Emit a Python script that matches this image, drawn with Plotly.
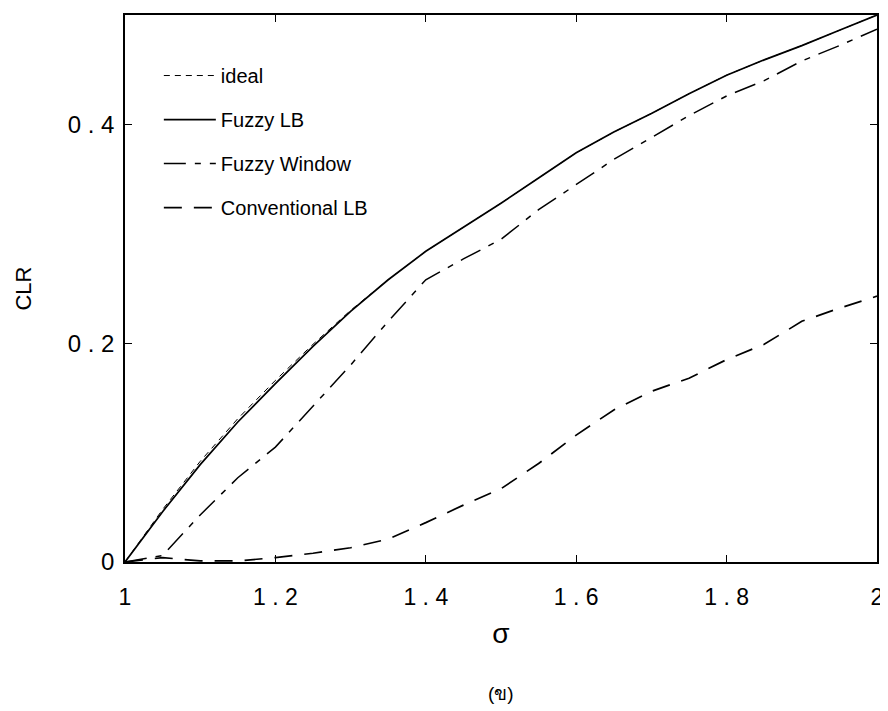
import plotly.graph_objects as go

sigma = [1.0, 1.05, 1.1, 1.15, 1.2, 1.25, 1.3, 1.35, 1.4, 1.45, 1.5,
         1.55, 1.6, 1.65, 1.7, 1.75, 1.8, 1.85, 1.9, 1.95, 2.0]

ideal = [0.0, 0.048, 0.092, 0.131, 0.166, 0.199, 0.230, 0.258, 0.284, 0.306, 0.328,
         0.351, 0.374, 0.393, 0.410, 0.428, 0.445, 0.459, 0.472, 0.486, 0.500]
fuzzy_lb = [0.0, 0.046, 0.089, 0.128, 0.163, 0.197, 0.229, 0.258, 0.284, 0.306, 0.328,
            0.351, 0.374, 0.393, 0.410, 0.428, 0.445, 0.459, 0.472, 0.486, 0.500]
fuzzy_window = [0.0, 0.006, 0.043, 0.077, 0.105, 0.143, 0.180, 0.220, 0.258, 0.277, 0.295,
                0.322, 0.345, 0.368, 0.388, 0.408, 0.426, 0.440, 0.458, 0.472, 0.487]
conventional_lb = [0.0, 0.004, 0.001, 0.001, 0.004, 0.008, 0.013, 0.021, 0.036, 0.052, 0.067,
                   0.090, 0.116, 0.139, 0.156, 0.168, 0.185, 0.199, 0.220, 0.232, 0.243]

x_ticks = [1.0, 1.2, 1.4, 1.6, 1.8, 2.0]
x_tick_text = ["1", "1 . 2", "1 . 4", "1 . 6", "1 . 8", "2"]
y_ticks = [0.0, 0.2, 0.4]
y_tick_text = ["0", "0 . 2", "0 . 4"]

fig = go.Figure()
fig.add_trace(go.Scatter(x=sigma, y=ideal, mode="lines", name="ideal", legendgroup="a",
                         line=dict(color="black", width=1, dash="6px,5px")))
fig.add_trace(go.Scatter(x=sigma, y=fuzzy_lb, mode="lines", name="Fuzzy LB", legendgroup="b",
                         line=dict(color="black", width=1.7)))
fig.add_trace(go.Scatter(x=sigma, y=fuzzy_window, mode="lines", name="Fuzzy Window", legendgroup="c",
                         line=dict(color="black", width=1.5, dash="22px,9px,6px,9px")))
fig.add_trace(go.Scatter(x=sigma, y=conventional_lb, mode="lines", name="Conventional LB", legendgroup="d",
                         line=dict(color="black", width=1.7, dash="18px,12px")))

# the page body adds an 8px margin, so the figure is sized to fit inside it
fig.update_layout(
    width=880, height=703,
    margin=dict(l=117, r=8, t=5, b=149),
    paper_bgcolor="white", plot_bgcolor="white",
    font=dict(family="Liberation Sans, Arial, sans-serif", color="black"),
    showlegend=True,
    legend=dict(x=0.045, y=0.925, xanchor="left", yanchor="top",
                font=dict(size=20), tracegroupgap=15, itemwidth=52,
                bgcolor="rgba(0,0,0,0)"),
    xaxis=dict(range=[1, 2], tickvals=x_ticks, ticktext=x_tick_text,
               ticks="inside", ticklen=7, tickcolor="black", showline=True, linecolor="black",
               linewidth=1.5, mirror="ticks", showgrid=False, zeroline=False,
               tickfont=dict(size=23), ticklabelstandoff=14,
               title=dict(text="σ", font=dict(size=28), standoff=14)),
    yaxis=dict(range=[0, 0.5], tickvals=y_ticks, ticktext=y_tick_text,
               ticks="inside", ticklen=7, tickcolor="black", showline=True, linecolor="black",
               linewidth=1.5, mirror="ticks", showgrid=False, zeroline=False,
               tickfont=dict(size=24), ticklabelstandoff=4,
               title=dict(text="CLR", font=dict(size=22), standoff=30)),
    annotations=[dict(text="(ข)", x=0.5, y=-0.263, xref="paper", yref="paper",
                      showarrow=False, font=dict(size=19))],
)

fig.write_html("out.html")
